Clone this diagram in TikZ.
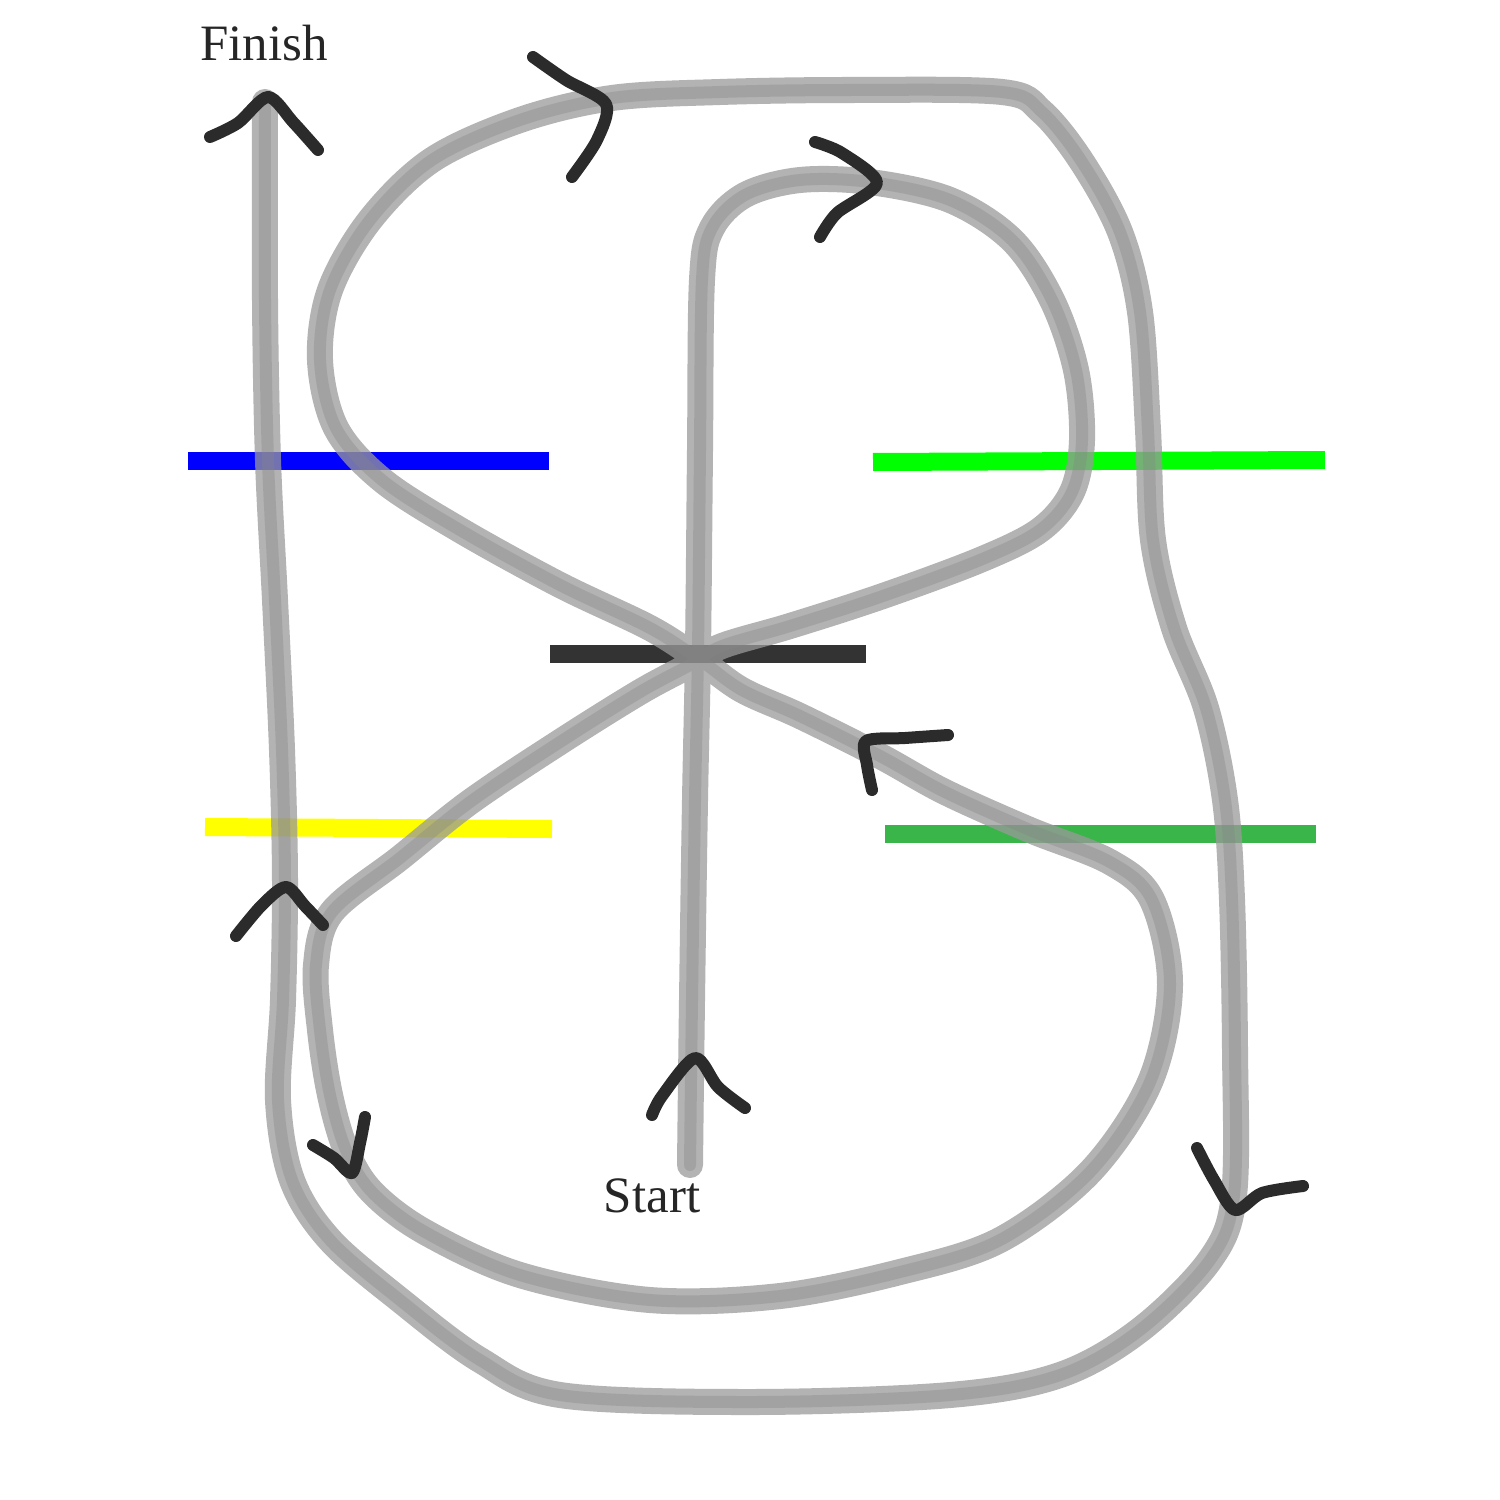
\documentclass[tikz,border=0pt]{standalone}
\usepackage{fontspec}
\setmainfont{Liberation Serif}
\begin{document}
\begin{tikzpicture}[x=0.01cm,y=-0.01cm,
  track/.style={draw=black!40, line width=0.26cm, opacity=0.75, line cap=round, line join=round},
  trackcore/.style={draw=black!48, line width=0.12cm, opacity=0.35, line cap=round, line join=round},
  chev/.style={draw=black!83, line width=0.12cm, line cap=round, line join=round},
  bar/.style={line width=0.18cm},
  lbl/.style={font=\fontsize{14.5}{17}\selectfont, text=black!85}]
\useasboundingbox (0,0) rectangle (1500,1500);
% coloured bars
\draw[bar, draw={rgb,255:red,0;green,0;blue,255}] (188,461) -- (549,461);
\draw[bar, draw={rgb,255:red,0;green,255;blue,0}] (873,462) -- (1325,460);
\draw[bar, draw=black!80] (550,654) -- (866,654);
\draw[bar, draw={rgb,255:red,255;green,255;blue,0}] (205,827) -- (552,829);
\draw[bar, draw={rgb,255:red,58;green,181;blue,74}] (885,834) -- (1316,834);
% track
\def\trackpts{(690,1165) (692,1000) (695,800) (698,650) (700,450) (702,280) (712,228) (745,195) (800,180) (870,182) (950,200) (1012,240) (1052,300) (1076,370) (1082,440) (1072,492) (1040,530) (980,560) (880,597) (790,626) (722,646) (690,665) (640,692) (560,742) (470,802) (400,858) (332,912) (316,965) (320,1030) (330,1095) (346,1150) (372,1192) (425,1232) (520,1275) (650,1300) (780,1296) (900,1272) (1000,1240) (1090,1172) (1150,1082) (1170,985) (1152,900) (1110,862) (1030,830) (945,792) (880,756) (800,716) (742,690) (700,660) (650,628) (560,585) (460,530) (382,480) (336,428) (320,360) (330,290) (370,220) (432,160) (520,120) (612,98) (720,92) (850,90) (1002,92) (1042,112) (1082,162) (1120,232) (1140,312) (1148,430) (1153,540) (1174,628) (1206,708) (1225,800) (1232,900) (1235,1050) (1234,1195) (1210,1260) (1140,1330) (1060,1375) (950,1395) (750,1402) (560,1395) (480,1360) (400,1300) (330,1240) (292,1180) (278,1100) (283,1000) (285,880) (282,750) (275,600) (268,460) (265,300) (265,102)}
\draw[track] plot[smooth, tension=0.55] coordinates {\trackpts};
\draw[trackcore] plot[smooth, tension=0.55] coordinates {\trackpts};
% chevrons
\draw[chev] plot[smooth, tension=0.5] coordinates {(210,137) (238,123) (268,97) (293,122) (318,150)};
\draw[chev] plot[smooth, tension=0.5] coordinates {(533,57) (566,80) (606,104) (597,140) (572,177)};
\draw[chev] plot[smooth, tension=0.5] coordinates {(815,142) (842,153) (877,183) (837,213) (820,237)};
\draw[chev] plot[smooth, tension=0.5] coordinates {(948,735) (905,738) (866,741) (867,765) (872,790)};
\draw[chev] plot[smooth, tension=0.5] coordinates {(236,936) (262,905) (286,887) (305,906) (323,925)};
\draw[chev] plot[smooth, tension=0.5] coordinates {(313,1145) (334,1158) (352,1173) (360,1143) (365,1117)};
\draw[chev] plot[smooth, tension=0.5] coordinates {(652,1115) (662,1096) (695,1058) (718,1087) (745,1108)};
\draw[chev] plot[smooth, tension=0.5] coordinates {(1197,1148) (1214,1180) (1235,1210) (1262,1193) (1303,1186)};
% labels
\node[lbl] (finish) at (264,43) {Finish};
\node[lbl] (start) at (652,1196) {Start};
\end{tikzpicture}
\end{document}
